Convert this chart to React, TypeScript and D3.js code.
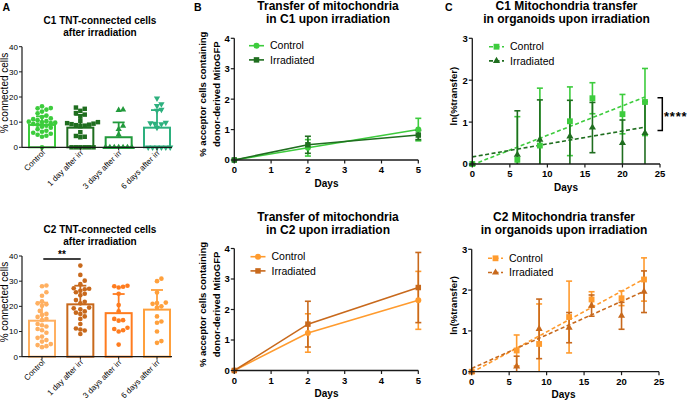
import React from "react";
import * as d3 from "d3";

const FONT = "'Liberation Sans', Arial, Helvetica, sans-serif";
const AX = "#1a1a1a";

// ---------------- Panel A data ----------------
const groupsA = ["Control", "1 day after irr", "3 days after irr", "6 days after irr"];
const yTicksA = [0, 10, 20, 30, 40];

const c1Mean = [8.9, 7.8, 4.0, 7.8];
const c1Sd = [3.4, 5.1, 5.9, 7.0];
const c1Control = [16.3, 15.6, 15.5, 15.0, 14.2, 13.5, 12.6, 12.0, 11.5, 11.2, 10.8, 10.4, 10.2, 10.0, 9.8, 9.6, 9.3, 9.0, 8.6, 8.2, 7.8, 7.2, 6.6, 6.2, 5.8, 5.4, 5.0, 4.6, 4.2, 0];
const c1Day1 = [15.8, 15.3, 14.5, 13.6, 13.0, 12.2, 10.4, 10.0, 9.6, 9.4, 9.2, 9.0, 8.8, 8.6, 8.4, 6.0, 4.5, 4.2, 4.0, 0, 0, 0, 0, 0, 0];
const c1Day3 = [15.0, 14.8, 8.5, 7.2, 5.0, 0, 0, 0, 0, 0, 0, 0];
const c1Day6 = [19.5, 17.2, 16.5, 15.0, 14.6, 9.8, 9.6, 9.4, 9.2, 7.8, 0, 0, 0, 0, 0, 0];

const c2Mean = [14.3, 20.8, 17.3, 18.7];
const c2Sd = [7.2, 7.4, 7.6, 7.8];
const c2Control = [28.3, 28.0, 25.6, 24.2, 22.0, 21.2, 20.8, 20.2, 18.2, 17.0, 16.6, 15.8, 15.0, 14.5, 13.0, 12.5, 12.0, 11.0, 10.5, 9.5, 8.0, 7.5, 6.6, 6.0, 5.0, 4.6, 4.2, 3.8];
const c2Day1 = [36.2, 32.5, 30.2, 28.8, 27.2, 27.0, 26.8, 26.2, 25.6, 25.0, 24.4, 22.5, 21.8, 21.2, 19.5, 19.2, 18.8, 18.0, 17.5, 17.0, 16.0, 15.0, 13.0, 11.2, 10.8, 10.4, 9.0];
const c2Day3 = [28.0, 28.2, 27.5, 27.8, 25.0, 20.5, 18.0, 15.0, 14.5, 14.3, 11.5, 11.0, 10.0, 10.5, 4.8];
const c2Day6 = [31.0, 30.0, 25.5, 21.5, 21.0, 21.3, 20.0, 19.5, 16.0, 14.0, 13.5, 10.0, 6.2, 5.5];

// ---------------- Panel B data ----------------
const daysB = [0, 2, 5];
const xTicksB = [0, 1, 2, 3, 4, 5];
const yTicksB = [0, 1, 2, 3, 4];
const bC1Control = [0, 0.4, 1.0];
const bC1ControlSd = [0, 0.27, 0.37];
const bC1Irr = [0, 0.5, 0.82];
const bC1IrrSd = [0, 0.28, 0.15];
const bC2Control = [0, 1.23, 2.3];
const bC2ControlSd = [0, 0.63, 0.95];
const bC2Irr = [0, 1.52, 2.72];
const bC2IrrSd = [0, 0.75, 1.15];

// ---------------- Panel C data ----------------
const daysC = [0, 6, 9, 13, 16, 20, 23];
const xTicksC = [0, 5, 10, 15, 20, 25];
const yTicksC = [0, 1, 2, 3];
const cC1Control = [0, 0.1, 0.44, 1.02, 1.57, 1.19, 1.48];
const cC1ControlSd = [0, 1.03, 1.37, 0.82, 0.37, 0.47, 0.8];
const cC1Irr = [0, 0.22, 0.58, 0.66, 0.87, 0.5, 0.74];
const cC1IrrSd = [0, 1.05, 0.95, 0.86, 0.6, 0.55, 0.75];
const cC2Control = [0, 0.52, 0.68, 1.34, 1.77, 1.8, 2.26];
const cC2ControlSd = [0, 0.38, 0.98, 0.88, 0.19, 0.18, 0.53];
const cC2Irr = [0, 0.13, 1.05, 1.08, 1.62, 1.37, 1.96];
const cC2IrrSd = [0, 0.25, 0.73, 0.37, 0.26, 0.33, 0.51];
const trendDays = [0, 23];
const cC1ControlTrend = [-0.02, 1.6];
const cC1IrrTrend = [0.17, 0.88];
const cC2ControlTrend = [-0.02, 2.27];
const cC2IrrTrend = [0.08, 1.97];

// ---------------- colours ----------------
const G_LIGHT = "#3dcc3d";
const G_DARK = "#1f6e1f";
const G_MID = "#229a3c";
const G_TEAL = "#2db07e";
const O_LIGHT = "#ffb061";
const O_DARK = "#c8691c";
const O_MID = "#ff7c1f";
const O_SOFT = "#ffa03c";
const O_CTRL = "#ff9b2e";

const symPath = (type: any, size: number) => d3.symbol().type(type).size(size)() as string;

function swarm(values: number[], y: (v: number) => number, minDist: number) {
  const order = values.map((_, i) => i).sort((a, b) => values[a] - values[b]);
  const placed: { x: number; y: number }[] = [];
  const out: number[] = new Array(values.length).fill(0);
  for (const i of order) {
    const py = y(values[i]);
    const cands = [0];
    for (let k = 1; k < 30; k++) cands.push((k * minDist) / 2, (-k * minDist) / 2);
    let best = 0;
    for (const c of cands) {
      if (placed.every((p) => Math.hypot(p.x - c, p.y - py) >= minDist - 0.01)) {
        best = c;
        break;
      }
    }
    placed.push({ x: best, y: py });
    out[i] = best;
  }
  return out;
}

type BarProps = {
  y0: number;
  y1: number;
  titleLines: string[];
  titleY: number;
  means: number[];
  sds: number[];
  dots: number[][];
  colors: string[];
  shapes: { type: any; size: number; rot?: number }[];
  labelY: number;
  sig?: boolean;
};

function BarPanel(p: BarProps) {
  const x = d3.scalePoint<string>().domain(groupsA).range([42, 157]);
  const y = d3.scaleLinear().domain([0, 40]).range([p.y0, p.y1]);
  const bw = 26;
  const axisX = 22;
  return (
    <g>
      {p.titleLines.map((t, i) => (
        <text key={i} x={100} y={p.titleY + i * 11.5} textAnchor="middle" fontSize={10} fontWeight="bold">
          {t}
        </text>
      ))}
      <text transform={`translate(8.3,${p.labelY}) rotate(-90)`} textAnchor="middle" fontSize={10}>
        % connected cells
      </text>
      {groupsA.map((g, i) => {
        const cx = x(g)!;
        const m = p.means[i];
        const top = y(m + p.sds[i]);
        const offs = swarm(p.dots[i], y, 4.4);
        const sh = p.shapes[i];
        const d = symPath(sh.type, sh.size);
        return (
          <g key={g}>
            <rect x={cx - bw / 2} y={y(m)} width={bw} height={p.y0 - y(m)} fill="#fff" stroke={p.colors[i]} strokeWidth={2} />
            <line x1={cx} x2={cx} y1={y(m)} y2={top} stroke={p.colors[i]} strokeWidth={1.8} />
            <line x1={cx - 6} x2={cx + 6} y1={top} y2={top} stroke={p.colors[i]} strokeWidth={1.8} />
            {p.dots[i].map((v, j) => (
              <path
                key={j}
                d={d}
                fill={p.colors[i]}
                transform={`translate(${cx + offs[j]},${y(v)})${sh.rot ? ` rotate(${sh.rot})` : ""}`}
              />
            ))}
          </g>
        );
      })}
      <line x1={axisX} x2={axisX} y1={p.y1} y2={p.y0} stroke={AX} strokeWidth={1.2} />
      <line x1={axisX} x2={172} y1={p.y0} y2={p.y0} stroke={AX} strokeWidth={1.2} />
      {yTicksA.map((t) => (
        <g key={t}>
          <line x1={axisX - 3} x2={axisX} y1={y(t)} y2={y(t)} stroke={AX} strokeWidth={1} />
          <text x={axisX - 4} y={y(t) + 2.8} textAnchor="end" fontSize={8}>
            {t}
          </text>
        </g>
      ))}
      {groupsA.map((g) => (
        <g key={g}>
          <line x1={x(g)} x2={x(g)} y1={p.y0} y2={p.y0 + 3} stroke={AX} strokeWidth={1} />
          <text transform={`translate(${x(g)! + 3.5},${p.y0 + 6}) rotate(-45)`} textAnchor="end" fontSize={8}>
            {g}
          </text>
        </g>
      ))}
      {p.sig && (
        <g>
          <line x1={43.3} x2={80.7} y1={259} y2={259} stroke="#000" strokeWidth={1.3} />
          <text x={62} y={258} textAnchor="middle" fontSize={10} fontWeight="bold">
            **
          </text>
        </g>
      )}
    </g>
  );
}

type Series = {
  name: string;
  days: number[];
  vals: number[];
  sds: number[];
  color: string;
  sym: any;
  size: number;
  trend?: number[];
};

type LineProps = {
  x0: number;
  x1: number;
  y0: number;
  y1: number;
  xDomain: [number, number];
  yDomain: [number, number];
  xTicks: number[];
  yTicks: number[];
  titleLines: string[];
  titleX: number;
  titleY: number;
  ylabel: string[];
  ylabelX: number[];
  series: Series[];
  legendX: number;
  legendY: number;
  dashed: boolean;
  capW: number;
  daysX: number;
};

function LinePanel(p: LineProps) {
  const x = d3.scaleLinear().domain(p.xDomain).range([p.x0, p.x1]);
  const y = d3.scaleLinear().domain(p.yDomain).range([p.y0, p.y1]);
  const midY = (p.y0 + p.y1) / 2 - 5;
  return (
    <g>
      {p.titleLines.map((t, i) => (
        <text key={i} x={p.titleX} y={p.titleY + i * 13} textAnchor="middle" fontSize={12} fontWeight="bold">
          {t}
        </text>
      ))}
      {p.ylabel.map((t, i) => (
        <text key={i} transform={`translate(${p.ylabelX[i]},${midY}) rotate(-90)`} textAnchor="middle" fontSize={9.5} fontWeight="bold">
          {t}
        </text>
      ))}
      {p.series.map((s) => {
        const pts = s.days.map((d, i) => [x(d), y(s.vals[i])] as [number, number]);
        const path = p.dashed
          ? (d3.line()([
              [x(trendDays[0]), y(s.trend![0])],
              [x(trendDays[1]), y(s.trend![1])],
            ]) as string)
          : (d3.line()(pts) as string);
        return (
          <g key={s.name}>
            <path d={path} fill="none" stroke={s.color} strokeWidth={1.6} strokeDasharray={p.dashed ? "4,2.5" : undefined} />
            {s.days.map((d, i) => {
              if (s.sds[i] === 0) return null;
              const lo = y(Math.max(p.yDomain[0], s.vals[i] - s.sds[i]));
              const hi = y(s.vals[i] + s.sds[i]);
              const cx = x(d);
              const showLo = s.vals[i] - s.sds[i] >= 0;
              return (
                <g key={i}>
                  <line x1={cx} x2={cx} y1={lo} y2={hi} stroke={s.color} strokeWidth={1.6} />
                  <line x1={cx - p.capW / 2} x2={cx + p.capW / 2} y1={hi} y2={hi} stroke={s.color} strokeWidth={1.6} />
                  {showLo && <line x1={cx - p.capW / 2} x2={cx + p.capW / 2} y1={lo} y2={lo} stroke={s.color} strokeWidth={1.6} />}
                </g>
              );
            })}
          </g>
        );
      })}
      {p.series.map((s) => (
        <g key={s.name + "m"}>
          {s.days.map((d, i) => (
            <path key={i} d={symPath(s.sym, s.size)} fill={s.color} transform={`translate(${x(d)},${y(s.vals[i])})`} />
          ))}
        </g>
      ))}
      {p.series.map((s, i) => {
        const ly = p.legendY + i * 14.2;
        return (
          <g key={s.name + "l"}>
            <line x1={p.legendX} x2={p.legendX + 15} y1={ly} y2={ly} stroke={s.color} strokeWidth={1.6} strokeDasharray={p.dashed ? "4,2.5" : undefined} />
            <path d={symPath(s.sym, s.size)} fill={s.color} transform={`translate(${p.legendX + 7.5},${ly})`} />
            <text x={p.legendX + 21} y={ly + 3.7} fontSize={10.5}>
              {s.name}
            </text>
          </g>
        );
      })}
      <line x1={p.x0} x2={p.x0} y1={p.y1} y2={p.y0} stroke={AX} strokeWidth={1.3} />
      <line x1={p.x0} x2={p.x1} y1={p.y0} y2={p.y0} stroke={AX} strokeWidth={1.3} />
      {p.yTicks.map((t) => (
        <g key={t}>
          <line x1={p.x0 - 3.5} x2={p.x0} y1={y(t)} y2={y(t)} stroke={AX} strokeWidth={1.2} />
          <text x={p.x0 - 4.5} y={y(t) + 3.4} textAnchor="end" fontSize={9.5} fontWeight="bold">
            {t}
          </text>
        </g>
      ))}
      {p.xTicks.map((t) => (
        <g key={t}>
          <line x1={x(t)} x2={x(t)} y1={p.y0} y2={p.y0 + 3.5} stroke={AX} strokeWidth={1.2} />
          <text x={x(t)} y={p.y0 + 13} textAnchor="middle" fontSize={9.5} fontWeight="bold">
            {t}
          </text>
        </g>
      ))}
      <text x={p.daysX} y={p.y0 + 26.5} textAnchor="middle" fontSize={10} fontWeight="bold">
        Days
      </text>
    </g>
  );
}

const triUp = d3.symbolTriangle;

export default function App() {
  return (
    <svg
      width={691}
      height={403}
      viewBox="0 0 691 403"
      style={{ position: "absolute", left: 0, top: 0, background: "#fff", fontFamily: FONT }}
    >
      <rect width={691} height={403} fill="#fff" />
      <text x={2.5} y={10.5} fontSize={10.5} fontWeight="bold">A</text>
      <text x={194} y={10.8} fontSize={10.5} fontWeight="bold">B</text>
      <text x={445} y={10.8} fontSize={10.5} fontWeight="bold">C</text>

      <BarPanel
        y0={147.3}
        y1={46.7}
        titleLines={["C1 TNT-connected cells", "after irradiation"]}
        titleY={24.3}
        means={c1Mean}
        sds={c1Sd}
        dots={[c1Control, c1Day1, c1Day3, c1Day6]}
        colors={[G_LIGHT, G_DARK, G_MID, G_TEAL]}
        shapes={[
          { type: d3.symbolCircle, size: 17 },
          { type: d3.symbolSquare, size: 20 },
          { type: triUp, size: 17 },
          { type: triUp, size: 17, rot: 180 },
        ]}
        labelY={93}
      />
      <BarPanel
        y0={356.7}
        y1={256}
        titleLines={["C2 TNT-connected cells", "after irradiation"]}
        titleY={233}
        means={c2Mean}
        sds={c2Sd}
        dots={[c2Control, c2Day1, c2Day3, c2Day6]}
        colors={[O_LIGHT, O_DARK, O_MID, O_SOFT]}
        shapes={[
          { type: d3.symbolCircle, size: 17 },
          { type: d3.symbolCircle, size: 17 },
          { type: d3.symbolCircle, size: 17 },
          { type: d3.symbolCircle, size: 17 },
        ]}
        labelY={302}
        sig
      />

      <LinePanel
        x0={234.3}
        x1={418.3}
        y0={160}
        y1={38.3}
        xDomain={[0, 5]}
        yDomain={[0, 4]}
        xTicks={xTicksB}
        yTicks={yTicksB}
        titleLines={["Transfer of mitochondria", "in C1 upon irradiation"]}
        titleX={328}
        titleY={10}
        ylabel={["% acceptor cells containing", "donor-derived MitoGFP"]}
        ylabelX={[205.5, 219.5]}
        series={[
          { name: "Control", days: daysB, vals: bC1Control, sds: bC1ControlSd, color: G_LIGHT, sym: d3.symbolCircle, size: 28 },
          { name: "Irradiated", days: daysB, vals: bC1Irr, sds: bC1IrrSd, color: G_DARK, sym: d3.symbolSquare, size: 30 },
        ]}
        legendX={249}
        legendY={45.7}
        dashed={false}
        capW={6}
        daysX={326.5}
      />
      <LinePanel
        x0={234.3}
        x1={418.3}
        y0={370.5}
        y1={248.5}
        xDomain={[0, 5]}
        yDomain={[0, 4]}
        xTicks={xTicksB}
        yTicks={yTicksB}
        titleLines={["Transfer of mitochondria", "in C2 upon irradiation"]}
        titleX={328}
        titleY={220.5}
        ylabel={["% acceptor cells containing", "donor-derived MitoGFP"]}
        ylabelX={[205.5, 219.5]}
        series={[
          { name: "Control", days: daysB, vals: bC2Control, sds: bC2ControlSd, color: O_CTRL, sym: d3.symbolCircle, size: 28 },
          { name: "Irradiated", days: daysB, vals: bC2Irr, sds: bC2IrrSd, color: O_DARK, sym: d3.symbolSquare, size: 30 },
        ]}
        legendX={250.5}
        legendY={256.7}
        dashed={false}
        capW={6}
        daysX={326.5}
      />

      <LinePanel
        x0={472.3}
        x1={660}
        y0={164}
        y1={38.3}
        xDomain={[0, 25]}
        yDomain={[0, 3]}
        xTicks={xTicksC}
        yTicks={yTicksC}
        titleLines={["C1 Mitochondria transfer", "in organoids upon irradiation"]}
        titleX={566.5}
        titleY={10}
        ylabel={["ln(%transfer)"]}
        ylabelX={[457]}
        series={[
          { name: "Control", days: daysC, vals: cC1Control, sds: cC1ControlSd, color: G_LIGHT, sym: d3.symbolSquare, size: 34, trend: cC1ControlTrend },
          { name: "Irradiated", days: daysC, vals: cC1Irr, sds: cC1IrrSd, color: G_DARK, sym: triUp, size: 22, trend: cC1IrrTrend },
        ]}
        legendX={489}
        legendY={46.7}
        dashed={true}
        capW={6}
        daysX={566}
      />
      <LinePanel
        x0={471.7}
        x1={659}
        y0={371.7}
        y1={249.3}
        xDomain={[0, 25]}
        yDomain={[0, 3]}
        xTicks={xTicksC}
        yTicks={yTicksC}
        titleLines={["C2 Mitochondria transfer", "in organoids upon irradiation"]}
        titleX={564}
        titleY={221}
        ylabel={["ln(%transfer)"]}
        ylabelX={[457]}
        series={[
          { name: "Control", days: daysC, vals: cC2Control, sds: cC2ControlSd, color: O_CTRL, sym: d3.symbolSquare, size: 34, trend: cC2ControlTrend },
          { name: "Irradiated", days: daysC, vals: cC2Irr, sds: cC2IrrSd, color: O_DARK, sym: triUp, size: 22, trend: cC2IrrTrend },
        ]}
        legendX={488}
        legendY={258.3}
        dashed={true}
        capW={6}
        daysX={563.5}
      />

      <g stroke="#000" strokeWidth={1.5} fill="none">
        <path d="M657.5,97.8 H662.3 V130.5 H657.5" />
      </g>
      <text x={664} y={121} fontSize={13} fontWeight="bold" letterSpacing={0.8}>
        ****
      </text>
    </svg>
  );
}
